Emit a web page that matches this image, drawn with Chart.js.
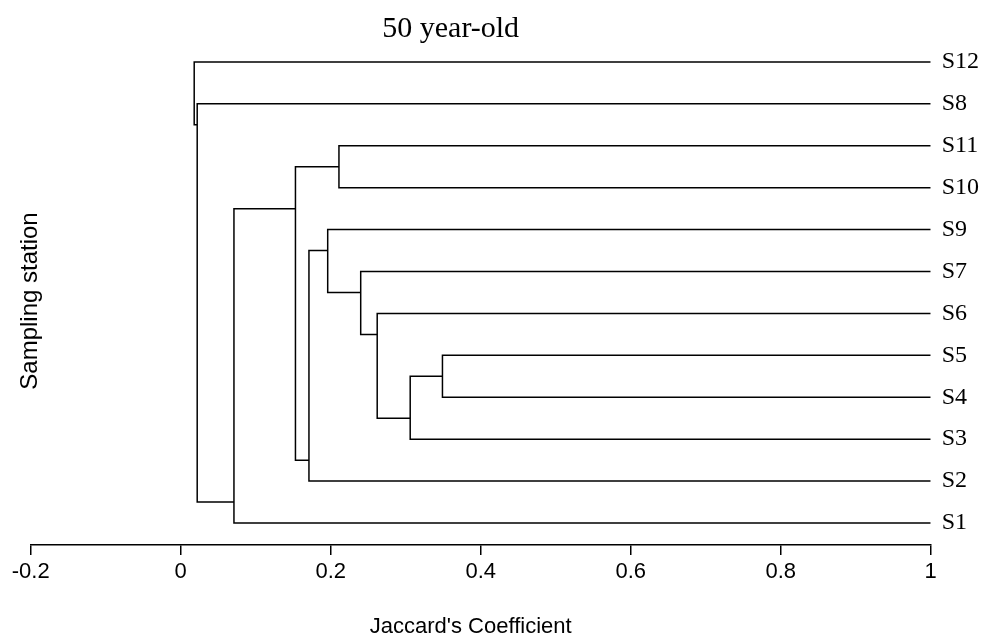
<!DOCTYPE html>
<html>
<head>
<meta charset="utf-8">
<script src="https://cdn.jsdelivr.net/npm/chart.js@4/dist/chart.umd.min.js"></script>
<style>
  html, body { margin: 0; padding: 0; background: #fff; }
  #wrap { width: 987px; height: 641px; }
</style>
</head>
<body>
<div id="wrap"><canvas id="c" width="987" height="641"></canvas></div>
<script>
// Stations in display order, top to bottom
const leafLabels = ['S12', 'S8', 'S11', 'S10', 'S9', 'S7', 'S6', 'S5', 'S4', 'S3', 'S2', 'S1'];

// Agglomeration steps: ids 0..11 are stations (display order), 12+ are merged clusters
const mergeA = [7, 12, 6, 5, 4, 16, 2, 18, 19, 1, 0];
const mergeB = [8, 9, 13, 14, 15, 10, 3, 17, 11, 20, 21];
const mergeHeight = [0.349, 0.306, 0.262, 0.240, 0.196, 0.171, 0.211, 0.153, 0.071, 0.022, 0.018];

// Axis
const xTicks = [-0.2, 0, 0.2, 0.4, 0.6, 0.8, 1];
const leafEnd = 1;

const chartTitle = '50 year-old';
const xTitle = "Jaccard's Coefficient";
const yTitle = 'Sampling station';

// Build dendrogram branches: each merge is a bracket joining its two children
const n = leafLabels.length;
const leafY = leafLabels.map((_, i) => n - i);
const nodes = leafLabels.map((_, i) => ({ lo: i, hi: i, x: leafEnd, y: leafY[i] }));
const branches = [];
mergeHeight.forEach((h, k) => {
  const a = nodes[mergeA[k]];
  const b = nodes[mergeB[k]];
  branches.push([
    { x: a.x, y: a.y },
    { x: h, y: a.y },
    { x: h, y: b.y },
    { x: b.x, y: b.y }
  ]);
  nodes.push({
    lo: Math.min(a.lo, b.lo),
    hi: Math.max(a.hi, b.hi),
    x: h,
    y: n - (a.hi + b.lo) / 2
  });
});

const datasets = branches.map(pts => ({
  data: pts,
  showLine: true,
  borderColor: '#000',
  borderWidth: 1.5,
  pointRadius: 0,
  pointHoverRadius: 0,
  fill: false,
  tension: 0
}));

const sans = "'Liberation Sans', Arial, sans-serif";
const serif = "'Liberation Serif', 'Times New Roman', serif";

// Titles placed relative to the plot area
const titlesPlugin = {
  id: 'titles',
  afterDraw(chart) {
    const { ctx, chartArea } = chart;
    ctx.save();
    ctx.fillStyle = '#000';
    ctx.textAlign = 'center';
    ctx.textBaseline = 'alphabetic';

    ctx.font = '30px ' + serif;
    ctx.fillText(chartTitle, chartArea.left + 420, 37);

    ctx.font = '22px ' + sans;
    ctx.fillText(xTitle, chartArea.left + 440, 633);

    ctx.translate(37, (chartArea.top + chartArea.bottom) / 2 + 8);
    ctx.rotate(-Math.PI / 2);
    ctx.font = '24px ' + sans;
    ctx.fillText(yTitle, 0, 0);
    ctx.restore();
  }
};

Chart.defaults.color = '#000';

new Chart(document.getElementById('c'), {
  type: 'scatter',
  data: { datasets },
  options: {
    responsive: false,
    animation: false,
    events: [],
    layout: { padding: { top: 41, left: 30.7, right: 0, bottom: 0 } },
    plugins: {
      legend: { display: false },
      tooltip: { enabled: false },
      title: { display: false }
    },
    scales: {
      x: {
        type: 'linear',
        position: 'bottom',
        min: xTicks[0],
        max: xTicks[xTicks.length - 1],
        afterBuildTicks: s => { s.ticks = xTicks.map(v => ({ value: v })); },
        afterFit: s => { s.height = 96; },
        border: { display: true, color: '#000', width: 1.5 },
        grid: {
          drawOnChartArea: false,
          drawTicks: true,
          tickLength: 10,
          color: '#000',
          lineWidth: 1.5
        },
        ticks: {
          padding: 4,
          maxRotation: 0,
          font: { family: sans, size: 22 },
          callback: v => String(Math.round(v * 10) / 10)
        }
      },
      y: {
        type: 'linear',
        position: 'right',
        min: 0.475,
        max: 12.5,
        afterBuildTicks: s => { s.ticks = leafY.map(v => ({ value: v })); },
        afterFit: s => { s.width = 987 - 930.7; },
        border: { display: false },
        grid: { display: false, drawTicks: false },
        ticks: {
          padding: 11,
          font: { family: serif, size: 24 },
          callback: v => leafLabels[n - v]
        }
      }
    }
  },
  plugins: [titlesPlugin]
});
</script>
</body>
</html>
